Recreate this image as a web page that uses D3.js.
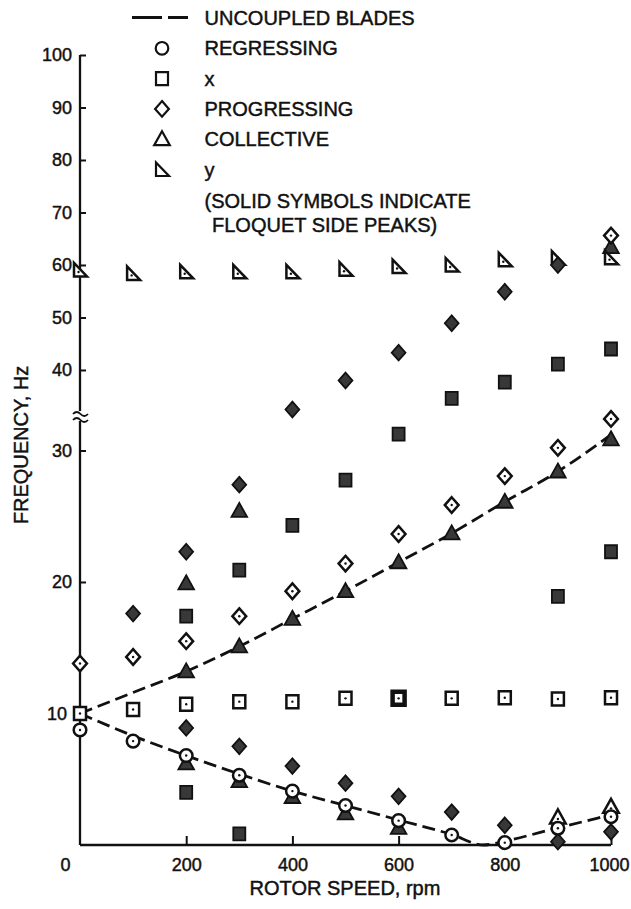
<!DOCTYPE html>
<html><head><meta charset="utf-8">
<script src="https://cdn.jsdelivr.net/npm/d3@7"></script>
<style>
body{margin:0;background:#fff}
svg{display:block}
text{font-family:"Liberation Sans",Arial,Helvetica,sans-serif;fill:#111;stroke:#111;stroke-width:0.45px}
</style>
</head><body>
<svg id="c" width="631" height="909"></svg>
<script>
// ---------- data ----------
const rpmTicks = [0, 200, 400, 600, 800, 1000];
const hzTicks = [10, 20, 30, 40, 50, 60, 70, 80, 90, 100];

const rpm = [0, 100, 200, 300, 400, 500, 600, 700, 800, 900, 1000];
const regressingHz = [8.75, 7.9, 6.8, 5.3, 4.1, 3.0, 1.85, 0.76, 0.18, 1.27, 2.15];
const xOpenHz = [10.0, 10.3, 10.7, 10.9, 10.9, 11.15, 11.15, 11.15, 11.2, 11.1, 11.2];
const xHeavyRpm = [600];
const progOpenHz = [13.8, 14.3, 15.5, 17.4, 19.3, 21.4, 23.65, 25.85, 28.05, 30.2, 32.4];
const progOpenExtraRpm = [1000];
const progOpenExtraHz = [65.6];
const yModeHz = [59.05, 58.4, 58.7, 58.7, 58.7, 59.2, 59.7, 60.0, 61.0, 61.3, 61.4];

const xSolidRpm = [200, 200, 300, 300, 400, 500, 600, 700, 800, 900, 1000, 900, 1000];
const xSolidHz = [17.4, 4.0, 20.9, 0.84, 24.3, 27.75, 31.25, 34.6, 37.7, 41.1, 44.0, 18.9, 22.3];

const progSolidRpm = [100, 200, 300, 400, 500, 600, 700, 800, 900, 200, 300, 400, 500, 600, 700, 800, 900, 1000];
const progSolidHz = [17.6, 22.3, 27.4, 33.1, 38.0, 43.3, 48.9, 54.9, 60.0, 8.9, 7.5, 6.0, 4.7, 3.7, 2.5, 1.5, 0.25, 1.0];

const collSolidRpm = [200, 300, 200, 300, 400, 500, 600, 700, 800, 900, 1000, 1000, 200, 300, 400, 500, 600];
const collSolidHz = [19.9, 25.4, 13.2, 15.1, 17.2, 19.3, 21.5, 23.7, 26.1, 28.4, 30.85, 63.4, 6.2, 4.85, 3.65, 2.4, 1.3];
const collOpenRpm = [900, 1000];
const collOpenHz = [2.1, 2.9];

const uncUpperRpm = [0, 100, 200, 300, 400, 500, 600, 700, 800, 900, 1000];
const uncUpperHz = [10, 11.6, 13.2, 15.1, 17.2, 19.3, 21.5, 23.7, 26.1, 28.4, 31.2];
const uncLowerRpm = [0, 100, 200, 300, 400, 500, 600, 700, 760, 800, 900, 1000];
const uncLowerHz = [10, 8.3, 6.8, 5.4, 4.1, 3.0, 1.9, 0.8, 0, 0.3, 1.3, 2.3];

const legendLabels = ["UNCOUPLED BLADES", "REGRESSING", "x", "PROGRESSING", "COLLECTIVE", "y"];
const noteLines = ["(SOLID SYMBOLS INDICATE", "FLOQUET SIDE PEAKS)"];

// ---------- scales ----------
const svg = d3.select("#c");
const x = d3.scaleLinear().domain([0, 1000]).range([80, 611]);
// broken axis: 0-32.5 lower part, 33.5-100 upper part
const y = d3.scaleLinear().domain([0, 32.5, 33.5, 100]).range([845, 417.6, 404.1, 55]);

const zip = (a, b) => a.map((v, i) => ({rpm: v, hz: b[i]}));

// ---------- axes ----------
const FONT_TICK = 18;
const gy = svg.append("g").attr("transform", "translate(80,0)")
  .call(d3.axisLeft(y).tickValues(hzTicks).tickFormat(d3.format("d"))
    .tickSizeInner(-6).tickSizeOuter(0).tickPadding(8));
gy.select(".domain").remove();
gy.selectAll(".tick line").attr("stroke", "#111").attr("stroke-width", 2);
gy.selectAll(".tick text").attr("font-size", FONT_TICK).attr("fill", "#111")
  .attr("font-family", "Liberation Sans, Arial, sans-serif")
  .attr("x", d => d === 10 ? -13 : -8);

const gx = svg.append("g").attr("transform", "translate(0,845)")
  .call(d3.axisBottom(x).tickValues(rpmTicks).tickFormat(d3.format("d"))
    .tickSizeInner(-9).tickSizeOuter(0).tickPadding(13));
gx.select(".domain").remove();
gx.selectAll(".tick line").attr("stroke", "#111").attr("stroke-width", 2)
  .attr("display", d => d === 0 ? "none" : null);
gx.selectAll(".tick text").attr("font-size", FONT_TICK).attr("fill", "#111")
  .attr("font-family", "Liberation Sans, Arial, sans-serif")
  .attr("x", d => d === 0 ? -15 : (d === 1000 ? -2 : 0));

// axis lines
const axG = svg.append("g").attr("stroke", "#111").attr("stroke-width", 2.3).attr("fill", "none");
axG.append("line").attr("x1", x(0)).attr("x2", x(1000)).attr("y1", y(0)).attr("y2", y(0));
axG.append("line").attr("x1", x(0)).attr("x2", x(0)).attr("y1", y(0)).attr("y2", 421);
axG.append("line").attr("x1", x(0)).attr("x2", x(0)).attr("y1", 411).attr("y2", y(100));
// break marks
axG.append("path").attr("stroke-width", 1.8)
  .attr("d", "M73,414 q3.7,-4 7.5,0 t7.5,0 M73,420 q3.7,-4 7.5,0 t7.5,0");

// axis titles
svg.append("text").attr("x", 345).attr("y", 895).attr("text-anchor", "middle")
  .attr("font-size", 20).text("ROTOR SPEED, rpm");
svg.append("text").attr("transform", "translate(28,445) rotate(-90)").attr("text-anchor", "middle")
  .attr("font-size", 20).text("FREQUENCY, Hz");

// ---------- uncoupled blade lines ----------
const line = d3.line().x(d => x(d.rpm)).y(d => y(d.hz)).curve(d3.curveMonotoneX);
const lg = svg.append("g").attr("fill", "none").attr("stroke", "#111").attr("stroke-width", 2.8)
  .attr("stroke-dasharray", "13,6");
lg.append("path").attr("d", line(zip(uncUpperRpm, uncUpperHz)));
lg.append("path").attr("d", line(zip(uncLowerRpm, uncLowerHz)));

// ---------- symbols ----------
const shapes = {
  circle: "M6.3,0A6.3,6.3 0 1,1 -6.3,0A6.3,6.3 0 1,1 6.3,0Z",
  square: "M-6,-6.5H6V6.5H-6Z",
  diamond: "M0,-7.8L6.9,0L0,7.8L-6.9,0Z",
  triangle: "M0,-8L7.8,6L-7.8,6Z",
  rtri: "M-6,-7L-6,6.5L7,6.5Z"
};
const SOLID = "#383838";
function drawOpen(data, shape, sw) {
  const g = svg.append("g");
  const s = g.selectAll("g").data(data).join("g")
    .attr("transform", d => `translate(${x(d.rpm)},${y(d.hz)})`);
  s.append("path").attr("d", shapes[shape]).attr("fill", "#fff").attr("stroke", "#111")
    .attr("stroke-width", d => (sw ? sw(d) : 2.5)).attr("stroke-linejoin", "miter");
  s.append("circle").attr("r", 1.2).attr("cy", shape === "triangle" ? 1.5 : (shape === "rtri" ? 2 : 0))
    .attr("cx", shape === "rtri" ? -1.5 : 0).attr("fill", "#111");
}
function drawSolid(data, shape) {
  const g = svg.append("g");
  g.selectAll("path").data(data).join("path")
    .attr("transform", d => `translate(${x(d.rpm)},${y(d.hz)})`)
    .attr("d", shapes[shape]).attr("fill", SOLID).attr("stroke", "#111").attr("stroke-width", 1.8);
}

drawSolid(zip(collSolidRpm, collSolidHz), "triangle");
drawOpen(zip(collOpenRpm, collOpenHz), "triangle");
drawSolid(zip(xSolidRpm, xSolidHz), "square");
drawOpen(zip(rpm, yModeHz), "rtri");
drawSolid(zip(progSolidRpm, progSolidHz), "diamond");
drawOpen(zip(rpm, xOpenHz), "square", d => xHeavyRpm.includes(d.rpm) ? 4.5 : 2.5);
drawOpen(zip(rpm, progOpenHz), "diamond");
drawOpen(zip(progOpenExtraRpm, progOpenExtraHz), "diamond");
drawOpen(zip(rpm, regressingHz), "circle");

// ---------- legend ----------
const leg = svg.append("g");
const legBase = [25, 55.3, 85.6, 115.9, 146.2, 176.5];
const legShapes = [null, "circle", "square", "diamond", "triangle", "rtri"];
leg.append("line").attr("x1", 132).attr("x2", 188).attr("y1", 17.5).attr("y2", 17.5)
  .attr("stroke", "#111").attr("stroke-width", 2.8).attr("stroke-dasharray", "30,6");
legendLabels.forEach((t, i) => {
  leg.append("text").attr("x", 204.5).attr("y", legBase[i]).attr("font-size", 20).text(t);
  if (legShapes[i]) {
    leg.append("path").attr("d", shapes[legShapes[i]])
      .attr("transform", `translate(162,${legBase[i] - 7})`)
      .attr("fill", "#fff").attr("stroke", "#111").attr("stroke-width", 2.2);
  }
});
leg.append("text").attr("x", 204.5).attr("y", 207.5).attr("font-size", 20).text(noteLines[0]);
leg.append("text").attr("x", 212).attr("y", 231.5).attr("font-size", 20).text(noteLines[1]);
</script>
</body></html>
